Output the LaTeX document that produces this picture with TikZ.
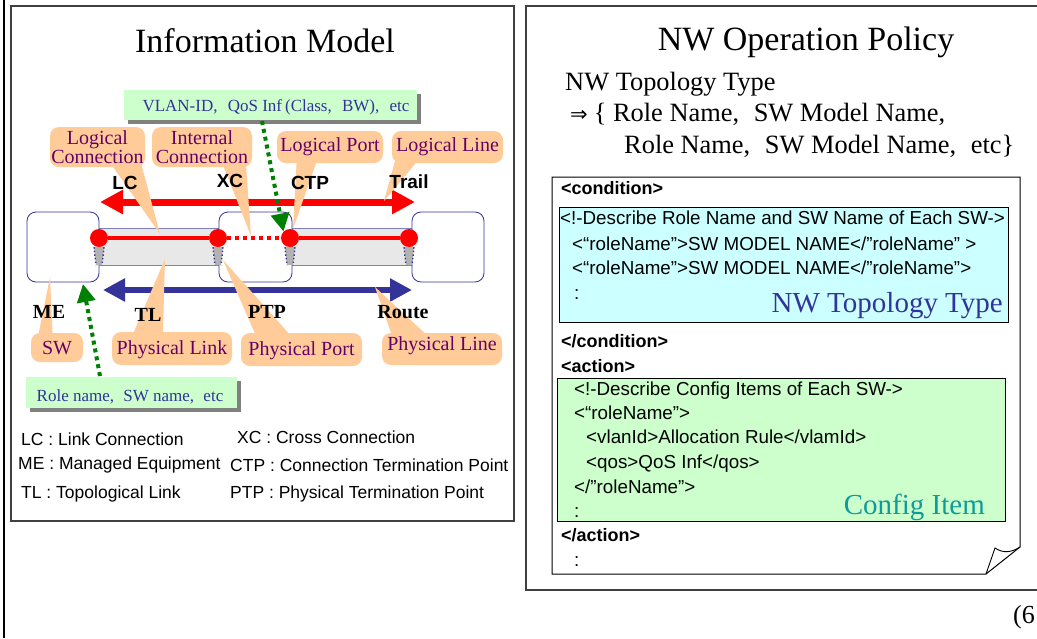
\documentclass[tikz,border=0pt]{standalone}
\usepackage{fontspec}
\setmainfont{Liberation Serif}
\setsansfont{Liberation Sans}
\newfontfamily\symfont{DejaVu Sans}
\usetikzlibrary{arrows.meta,shadows}
\definecolor{peach}{HTML}{FFCC99}
\definecolor{purp}{HTML}{660066}
\definecolor{mint}{HTML}{CCFFCC}
\definecolor{navy}{HTML}{333399}
\definecolor{barfill}{HTML}{E8E8E8}
\definecolor{barline}{HTML}{8080C0}
\definecolor{dgreen}{HTML}{008000}
\definecolor{cyanbg}{HTML}{CCFFFF}
\definecolor{tealtxt}{HTML}{109A9A}
\definecolor{frame}{HTML}{404040}
\begin{document}
\begin{tikzpicture}[x=1pt,y=-1pt,
  callout/.style={fill=peach, rounded corners=9pt, inner sep=0pt},
  callouttext/.style={text=purp, font=\fontsize{20}{19.5}\selectfont, inner sep=0pt, align=center},
  calloutwedge/.style={fill=peach},
  infobox/.style={fill=mint, inner sep=0pt, drop shadow={shadow xshift=3.5pt, shadow yshift=-3.5pt, fill=gray, opacity=1}},
  infotext/.style={text=navy, font=\fontsize{17}{20}\selectfont, inner sep=0pt},
  mebox/.style={draw=navy, line width=0.8pt, fill=white, rounded corners=9pt, inner sep=0pt},
  linkbar/.style={draw=barline, line width=0.8pt, fill=barfill, inner sep=0pt},
  ctpdot/.style={circle, fill=red, inner sep=0pt, minimum size=18pt},
  sanslbl/.style={font=\sffamily\bfseries\fontsize{19}{22}\selectfont, inner sep=0pt},
  seriflbl/.style={font=\bfseries\fontsize{20}{22}\selectfont, inner sep=0pt},
  legtext/.style={font=\sffamily\fontsize{17.5}{20}\selectfont, anchor=base west, inner sep=0pt},
  xmltext/.style={font=\sffamily\fontsize{18.8}{22}\selectfont, anchor=base west, inner sep=0pt},
  xmlbold/.style={font=\sffamily\bfseries\fontsize{18}{20}\selectfont, anchor=base west, inner sep=0pt},
  greenarrow/.style={draw=dgreen, line width=4pt, dash pattern=on 4pt off 4pt, -{Triangle[length=18pt,width=18pt,fill=dgreen]}},
  panel/.style={draw=frame, line width=1.5pt},
  ptpwedge/.style={fill=gray!60},
  ptpdots/.style={draw=navy, line width=1.4pt, dash pattern=on 1.4pt off 2.2pt},
  policytext/.style={font=\fontsize{26.4}{30}\selectfont, anchor=base west, inner sep=0pt},
]
\useasboundingbox (0,0) rectangle (1037,638);
\fill[white] (0,0) rectangle (1037,638);

% ---------- frames ----------
\draw[line width=1.5pt] (4,0) -- (4,638);
\draw[panel] (11,6) rectangle (514,521);
\draw[panel] (1045,6) -- (526,6) -- (526,590) -- (1045,590);

% ---------- titles ----------
\node[font=\fontsize{34}{40}\selectfont, anchor=base, inner sep=0pt] (titleL) at (265,52) {Information Model};
\node[font=\fontsize{34}{40}\selectfont, anchor=base, inner sep=0pt] (titleR) at (806,50) {NW Operation Policy};

% ---------- network model ----------
\coordinate (lcL) at (100,202);
\coordinate (lcR) at (415,202);
\draw[red, line width=7pt, {Triangle[length=23pt,width=23pt]}-{Triangle[length=23pt,width=23pt]}] (lcL) -- (lcR);
\coordinate (rtL) at (103,290);
\coordinate (rtR) at (412,290);
\draw[navy, line width=6pt, {Triangle[length=22pt,width=22pt]}-{Triangle[length=22pt,width=22pt]}] (rtL) -- (rtR);

\node[linkbar, minimum width=120pt, minimum height=37pt] (bar1) at (159,246.5) {};
\node[linkbar, minimum width=120pt, minimum height=37pt] (bar2) at (352,246.5) {};
\node[mebox, minimum width=72pt, minimum height=70pt] (me1) at (63,247) {};
\node[mebox, minimum width=73pt, minimum height=70pt] (me2) at (255.5,247) {};
\node[mebox, minimum width=72pt, minimum height=70pt] (me3) at (448,247) {};

\node[ctpdot] (d1) at (99,238) {};
\node[ctpdot] (d2) at (218,238) {};
\node[ctpdot] (d3) at (290,238) {};
\node[ctpdot] (d4) at (409,238) {};
\draw[red, line width=4pt] (d1) -- (d2);
\draw[red, line width=3.5pt, dash pattern=on 3.5pt off 4.5pt] (d2) -- (d3);
\draw[red, line width=4pt] (d3) -- (d4);

\foreach \d in {d1,d2,d3,d4}{
  \fill[ptpwedge] ([xshift=-5pt]\d.south) -- ([xshift=5pt]\d.south) -- ([xshift=3pt,yshift=-18pt]\d.south) -- ([xshift=-3pt,yshift=-18pt]\d.south) -- cycle;
  \draw[ptpdots] ([xshift=-5pt]\d.south) -- ([xshift=-3pt,yshift=-18pt]\d.south);
  \draw[ptpdots] ([xshift=5pt]\d.south) -- ([xshift=3pt,yshift=-18pt]\d.south);
}

% ---------- callouts ----------
\node[callout, minimum width=95pt, minimum height=40pt] (cLC) at (97.5,147) {};
\node[callout, minimum width=100pt, minimum height=40pt] (cXC) at (202,147) {};
\node[callout, minimum width=106pt, minimum height=32pt] (cCTP) at (330,147) {};
\node[callout, minimum width=111pt, minimum height=32pt] (cTR) at (447.5,147) {};
\node[callout, minimum width=52pt, minimum height=29pt] (cSW) at (57,347.5) {};
\node[callout, minimum width=120pt, minimum height=33pt] (cPL) at (172,348.5) {};
\node[callout, minimum width=121pt, minimum height=33pt] (cPP) at (301.5,349.5) {};
\node[callout, minimum width=120pt, minimum height=32pt] (cPN) at (442,349) {};

\coordinate (tLC) at (160,234);
\coordinate (tXC) at (251,236);
\coordinate (tCTP) at (293,229);
\coordinate (tTR) at (384,201);
\coordinate (tSW) at (50,277);
\coordinate (tPL) at (165,259);
\coordinate (tPP) at (223,260);
\coordinate (tPN) at (375,287);

\fill[calloutwedge] ([xshift=60pt,yshift=5pt]cLC.south west) -- ([xshift=91pt,yshift=5pt]cLC.south west) -- (tLC) -- cycle;
\fill[calloutwedge] ([xshift=70pt,yshift=5pt]cXC.south west) -- ([xshift=94pt,yshift=5pt]cXC.south west) -- (tXC) -- cycle;
\fill[calloutwedge] ([xshift=20pt,yshift=5pt]cCTP.south west) -- ([xshift=41pt,yshift=5pt]cCTP.south west) -- (tCTP) -- cycle;
\fill[calloutwedge] ([xshift=4pt,yshift=5pt]cTR.south west) -- ([xshift=28pt,yshift=5pt]cTR.south west) -- (tTR) -- cycle;
\fill[calloutwedge] ([xshift=7pt,yshift=-5pt]cSW.north west) -- ([xshift=22pt,yshift=-5pt]cSW.north west) -- (tSW) -- cycle;
\fill[calloutwedge] ([xshift=20pt,yshift=-5pt]cPL.north west) -- ([xshift=51pt,yshift=-5pt]cPL.north west) -- (tPL) -- cycle;
\fill[calloutwedge] ([xshift=16pt,yshift=-5pt]cPP.north west) -- ([xshift=52pt,yshift=-5pt]cPP.north west) -- (tPP) -- cycle;
\fill[calloutwedge] ([xshift=11pt,yshift=-5pt]cPN.north west) -- ([xshift=48pt,yshift=-5pt]cPN.north west) -- (tPN) -- cycle;

\node[callouttext] (kLC) at (cLC) {Logical\\Connection};
\node[callouttext] (kXC) at (cXC) {Internal\\Connection};
\node[callouttext] (kCTP) at (cCTP) {Logical Port};
\node[callouttext] (kTR) at (cTR) {Logical Line};
\node[callouttext] (kSW) at ([yshift=-1pt]cSW.center) {SW};
\node[callouttext] (kPL) at ([yshift=-1pt]cPL.center) {Physical Link};
\node[callouttext] (kPP) at ([yshift=-1pt]cPP.center) {Physical Port};
\node[callouttext] (kPN) at ([yshift=3pt]cPN.center) {Physical Line};

% ---------- labels ----------
\node[sanslbl] (lLC) at (125,183) {LC};
\node[sanslbl] (lXC) at (230,181) {XC};
\node[sanslbl] (lCTP) at (310,183) {CTP};
\node[sanslbl] (lTR) at (409,182) {Trail};
\node[seriflbl] (lME) at (49,312) {ME};
\node[seriflbl] (lTL) at (148,315) {TL};
\node[seriflbl] (lPTP) at (267,312) {PTP};
\node[seriflbl] (lRT) at (403,312) {Route};

% ---------- info boxes ----------
\node[infobox, minimum width=293pt, minimum height=30pt] (vlan) at (270.5,105) {};
\node[infotext] (vlant) at (276,107) {VLAN-ID,\hspace{6pt} QoS Inf\hspace{3pt}(Class,\hspace{6pt} BW),\hspace{6pt} etc};
\node[infobox, minimum width=211pt, minimum height=31pt] (role) at (131.5,392.5) {};
\node[infotext] (rolet) at (130,397) {Role name,\hspace{5pt} SW name,\hspace{5pt} etc};
\coordinate (vlanS) at (262,121);
\coordinate (roleN) at (100,376);
\coordinate (meTip) at (83,284);
\draw[greenarrow] (vlanS) -- (d3.north west);
\draw[greenarrow] (roleN) -- (meTip);

% ---------- legend ----------
\node[legtext] (g1) at (21,445) {LC : Link Connection};
\node[legtext] (g2) at (237,443) {XC : Cross Connection};
\node[legtext] (g3) at (18,469) {ME : Managed Equipment};
\node[legtext] (g4) at (230,471) {CTP : Connection Termination Point};
\node[legtext] (g5) at (21,498) {TL : Topological Link};
\node[legtext] (g6) at (230,498) {PTP : Physical Termination Point};

% ---------- policy ----------
\node[policytext] (p1) at (565,90) {NW Topology Type};
\node[policytext] (p2) at (570,121) {{\symfont\fontsize{21}{25}\selectfont ⇒}\hspace{6pt}\{ Role Name,\hspace{8pt} SW Model Name,};
\node[policytext] (p3) at (624,153) {Role Name,\hspace{8pt} SW Model Name,\hspace{8pt} etc\}};

\draw[line width=1pt, fill=white] (552,177) -- (1020,177) -- (1020,547) -- (986,574) -- (552,574) -- cycle;
\draw[line width=0.9pt] (986,574) -- (995,548) .. controls (1004,554) and (1012,552) .. (1020,547);

\node[xmlbold] (x0) at (561,194) {<condition>};
\node[draw=black, line width=0.8pt, fill=cyanbg, minimum width=449pt, minimum height=115pt, inner sep=0pt, anchor=north west] (condbox) at (559,207) {};
\node[xmltext] (x1) at (560,224) {<!-Describe Role Name and SW Name of Each SW->};
\node[xmltext] (x2) at (572,250) {<“roleName”>SW MODEL NAME</”roleName” >};
\node[xmltext] (x3) at (572,274) {<“roleName”>SW MODEL NAME</”roleName”>};
\node[xmltext] (x4) at (574,299) {:};
\node[font=\fontsize{29}{30}\selectfont, text=navy, anchor=base east, inner sep=0pt] (x5) at (1003,312) {NW Topology Type};
\node[xmlbold] (x6) at (561,347) {</condition>};
\node[xmlbold] (x7) at (561,372) {<action>};
\node[draw=black, line width=0.8pt, fill=mint, minimum width=448pt, minimum height=143pt, inner sep=0pt, anchor=north west] (actbox) at (557,378) {};
\node[xmltext] (y1) at (574,395) {<!-Describe Config Items of Each SW->};
\node[xmltext] (y2) at (574,419) {<“roleName”>};
\node[xmltext] (y3) at (586,443) {<vlanId>Allocation Rule</vlamId>};
\node[xmltext] (y4) at (586,468) {<qos>QoS Inf</qos>};
\node[xmltext] (y5) at (574,493) {</”roleName”>};
\node[xmltext] (y6) at (574,517) {:};
\node[font=\fontsize{29}{30}\selectfont, text=tealtxt, anchor=base east, inner sep=0pt] (y7) at (985,514) {Config Item};
\node[xmlbold] (y8) at (561,541) {</action>};
\node[xmltext] (y9) at (574,566) {:};

\node[font=\fontsize{26}{30}\selectfont, anchor=base west, inner sep=0pt] (pg) at (1013,623) {(6};
\end{tikzpicture}
\end{document}
